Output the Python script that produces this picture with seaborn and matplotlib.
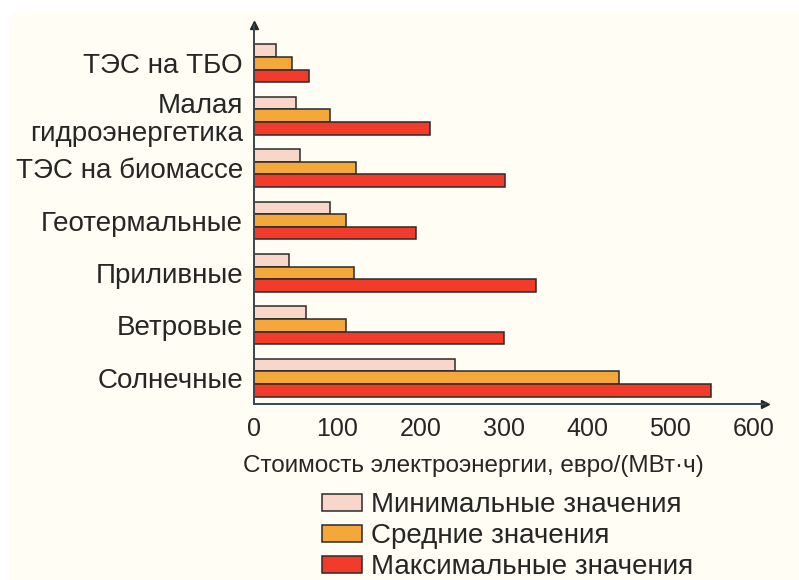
import matplotlib
matplotlib.use("Agg")
import matplotlib.pyplot as plt
import matplotlib.patches as mpatches
import seaborn as sns
import pandas as pd
import numpy as np

categories = ["ТЭС на ТБО", "Малая\nгидроэнергетика", "ТЭС на биомассе",
              "Геотермальные", "Приливные", "Ветровые", "Солнечные"]
min_values = [26, 51, 55, 91, 42, 62, 241]
avg_values = [46, 91, 122, 111, 120, 111, 438]
max_values = [66, 211, 302, 195, 339, 300, 549]
series_names = ["Минимальные значения", "Средние значения", "Максимальные значения"]
colors = ["#f8d6c9", "#f4a83a", "#f23b2a"]
x_ticks = [0, 100, 200, 300, 400, 500, 600]
x_label = "Стоимость электроэнергии, евро/(МВт·ч)"

df = pd.DataFrame({
    "cat": categories * 3,
    "val": min_values + avg_values + max_values,
    "series": [series_names[0]] * 7 + [series_names[1]] * 7 + [series_names[2]] * 7,
})

sns.set_style("white")
plt.rcParams['font.family'] = ['Liberation Sans', 'DejaVu Sans']

cream = "#fffdf4"
ink = "#262626"
fig = plt.figure(figsize=(7.99, 5.80), dpi=100, facecolor="white")
fig.patches.append(mpatches.Rectangle((12 / 799, 0), 1, (580 - 12) / 580,
                                      transform=fig.transFigure, facecolor=cream,
                                      edgecolor="none", zorder=-10))
ax = fig.add_axes([254 / 799, 176 / 580, (765 - 254) / 799, (555 - 176) / 580])
ax.set_facecolor("none")

sns.barplot(data=df, y="cat", x="val", hue="series", order=categories,
            hue_order=series_names, palette=colors, orient="h", width=0.72,
            edgecolor="#2a2a2a", linewidth=1.1, saturation=1, ax=ax, legend=False)

ax.set_xlim(0, 614)
ax.set_ylim(6.5, -0.73)
ax.set_xticks(x_ticks)
ax.set_xticklabels([str(t) for t in x_ticks], fontsize=18, color=ink)
ax.set_xlabel(x_label, fontsize=17.5, color=ink, labelpad=12)
ax.xaxis.set_label_coords((473 - 254) / 511, -0.135)
ax.set_ylabel("")
ax.set_yticks(range(len(categories)))
ax.set_yticklabels(categories, fontsize=20, color=ink, linespacing=1.1)
ax.set_yticks(np.arange(0.5, 6.0, 1.0), minor=True)
ax.tick_params(axis="y", which="major", length=0, pad=8)
ax.tick_params(axis="y", which="minor", length=5, width=1.6, color=ink, direction="out")
ax.tick_params(axis="x", which="major", length=5, width=1.6, color=ink, direction="out", pad=4)

for s in ["top", "right"]:
    ax.spines[s].set_visible(False)
axis_col = "#3a4650"
for s in ["left", "bottom"]:
    ax.spines[s].set_color(axis_col)
    ax.spines[s].set_linewidth(1.4)
ax.plot(1, 0, ">", color=ink, markersize=6, transform=ax.transAxes, clip_on=False)
ax.plot(0, 1, "^", color=ink, markersize=6, transform=ax.transAxes, clip_on=False)

handles = [mpatches.Patch(facecolor=c, edgecolor="#2a2a2a", linewidth=1.1) for c in colors]
fig.legend(handles, series_names, loc="upper left", bbox_to_anchor=(322 / 799, 1 - 492 / 580),
           frameon=False, fontsize=20, handlelength=1.44, handleheight=0.58,
           handletextpad=0.32, labelspacing=0.18, borderpad=0, borderaxespad=0,
           labelcolor=ink)

fig.savefig("out.png", dpi=100, facecolor="white")
